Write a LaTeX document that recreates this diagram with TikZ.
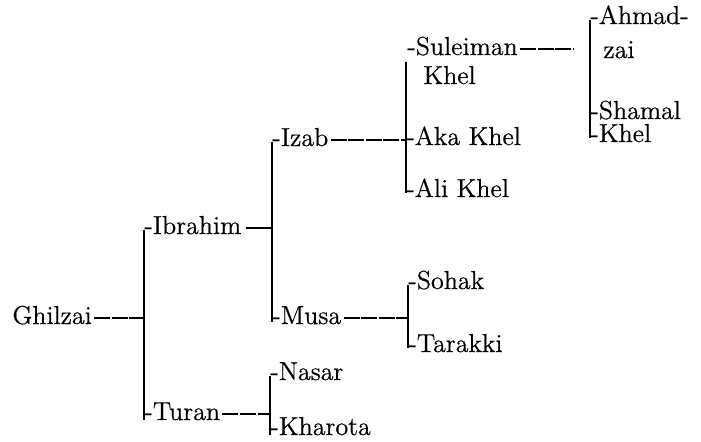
\documentclass[tikz,border=0pt]{standalone}
\usepackage{fontspec}
\newfontfamily\tribefont{Latin Modern Roman}[FakeBold=0.5]
\begin{document}
\begin{tikzpicture}[x=0.5pt,y=-0.5pt,
  tribe/.style={anchor=base west, inner sep=0pt, font=\tribefont\fontsize{13}{15}\selectfont},
  bar/.style={line width=0.8pt},
  link/.style={line width=0.6pt, dash pattern=on 8pt off 0.8pt},
  stub/.style={line width=0.6pt},
  mid/.style={yshift=3pt}]
\useasboundingbox (0,0) rectangle (701,441);

% vertical bars that gather each group of sons
\coordinate (gbar) at (144,0);
\coordinate (ibar) at (272,0);
\coordinate (tbar) at (270,0);
\coordinate (zbar) at (406,0);
\coordinate (mbar) at (408,0);
\coordinate (sbar) at (590,0);
\coordinate (ztop) at (406,62);

% names
\node[tribe] (ghilzai) at (12,324) {Ghilzai};
\node[tribe] (ibrahim) at (144,234) {-Ibrahim};
\node[tribe] (turan) at (144,420) {-Turan};
\node[tribe] (izab) at (272,146) {-Izab};
\node[tribe] (musa) at (272,324) {-Musa};
\node[tribe] (nasar) at (270,380) {-Nasar};
\node[tribe] (kharota) at (270,435) {-Kharota};
\node[tribe] (suleiman) at (407,55) {-Suleiman};
\node[tribe] (sulkhel) at (423,84) {Khel};
\node[tribe] (akakhel) at (406,145) {-Aka Khel};
\node[tribe] (alikhel) at (406,197) {-Ali Khel};
\node[tribe] (sohak) at (408,289) {-Sohak};
\node[tribe] (tarakki) at (408,352) {-Tarakki};
\node[tribe] (ahmad) at (590,24) {-Ahmad-};
\node[tribe] (zai) at (603,58) {zai};
\node[tribe] (shamal) at (590,119) {-Shamal};
\node[tribe] (khel) at (590,142) {-Khel};

% bars
\draw[bar] ([mid,yshift=-1pt]ibrahim.base west -| gbar) -- ([mid,yshift=-3pt]turan.base west -| gbar);
\draw[bar] ([mid,yshift=-1pt]izab.base west -| ibar) -- ([mid,yshift=-2pt]musa.base west -| ibar);
\draw[bar] ([mid,yshift=-1pt]nasar.base west -| tbar) -- ([mid,yshift=-3pt]kharota.base west -| tbar);
\draw[bar] (ztop) -- ([mid,yshift=-1pt]alikhel.base west -| zbar);
\draw[bar] ([mid,yshift=-1pt]sohak.base west -| mbar) -- ([mid,yshift=-1pt]tarakki.base west -| mbar);
\draw[bar] ([mid,yshift=-1pt]ahmad.base west -| sbar) -- ([mid,yshift=-1pt]khel.base west -| sbar);

% links from each father to the bar of his sons
\draw[link] ([mid,xshift=1pt]ghilzai.base east) -- ([mid]ghilzai.base east -| gbar);
\draw[stub] ([mid,xshift=2pt]ibrahim.base east) -- ([mid]ibrahim.base east -| ibar);
\draw[link] ([mid,xshift=1pt]turan.base east) -- ([mid]turan.base east -| tbar);
\draw[link] ([mid,xshift=1pt]izab.base east) -- ([mid]izab.base east -| zbar);
\draw[link] ([mid,xshift=1pt]musa.base east) -- ([mid]musa.base east -| mbar);
\draw[link] ([mid,xshift=1pt]suleiman.base east) -- ([mid,xshift=-8pt]suleiman.base east -| sbar);
\end{tikzpicture}
\end{document}
